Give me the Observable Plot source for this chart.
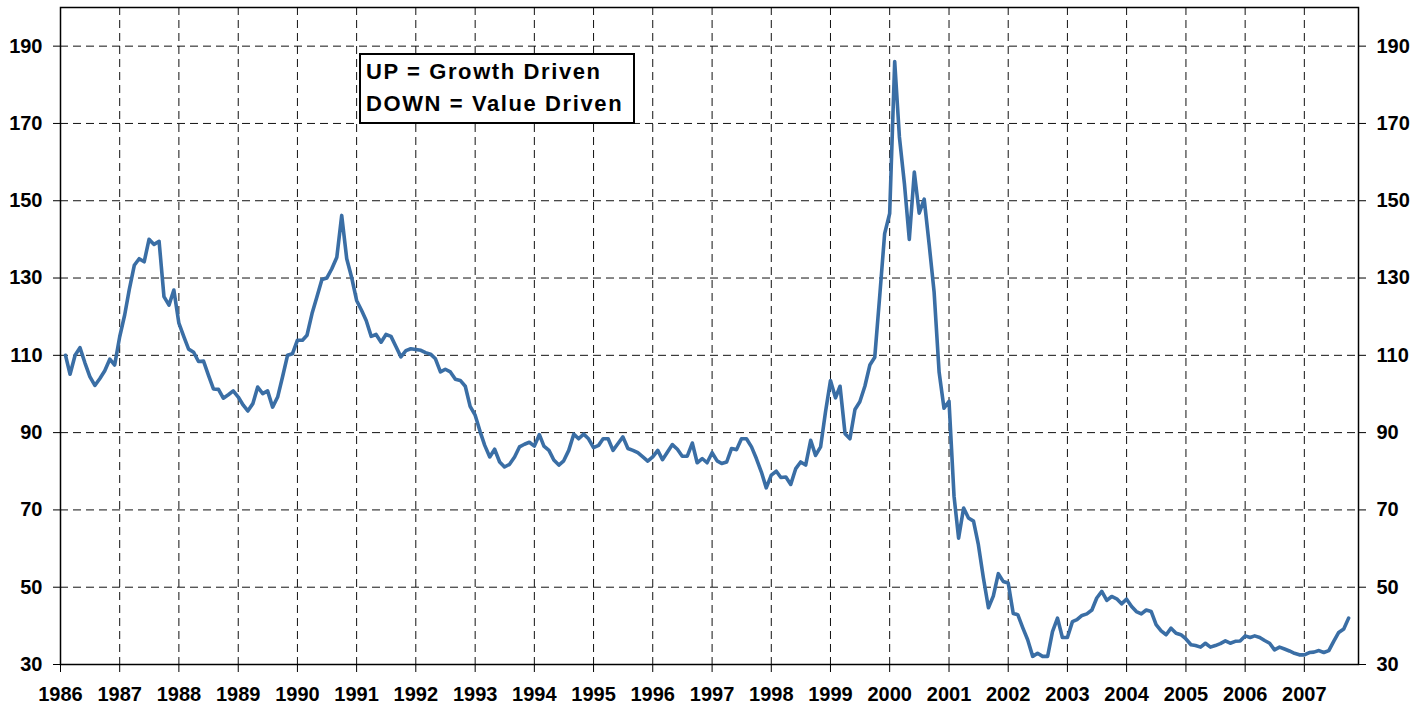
<!DOCTYPE html>
<html>
<head>
<meta charset="utf-8">
<script src="https://cdn.jsdelivr.net/npm/d3@7"></script>
<script src="https://cdn.jsdelivr.net/npm/@observablehq/plot@0.6"></script>
<style>
  html, body { margin: 0; padding: 0; background: #fff; }
  #wrap { position: relative; width: 1426px; height: 715px; overflow: hidden; }
  #legend {
    position: absolute; left: 359px; top: 53px; width: 267px; height: 66px;
    border: 2px solid #000; background: #fff; padding: 1px 0 0 5px;
    font-family: "Liberation Sans", Arial, sans-serif; font-weight: bold;
    font-size: 22px; letter-spacing: 1.6px; line-height: 32px; color: #000;
    white-space: nowrap;
  }
</style>
</head>
<body>
<div id="wrap"></div>
<script>
// ---- data (monthly, first observation Feb 1986) ----
const startYear = 1986;
const startMonthIndex = 1; // February (0-based)
const values = [
  110, 105.1, 110, 112, 108, 104.5, 102.2, 104, 106, 109, 107.5,
  114.8, 120.5, 127, 133.3, 135, 134.2, 140, 138.7, 139.5, 125.2, 123, 126.9,
  118.3, 114.8, 111.6, 110.8, 108.4, 108.5, 104.9, 101.3, 101.2, 98.9, 99.8, 100.8,
  99.2, 97.1, 95.6, 97.5, 101.8, 100.1, 100.8, 96.6, 99.2, 104.4, 110, 110.4,
  113.9, 113.9, 115.2, 120.8, 125.1, 129.6, 130, 132.4, 135.4, 146.2, 135, 130.2,
  124.2, 121.6, 119, 114.9, 115.4, 113.4, 115.4, 114.9, 112.2, 109.6, 111.2, 111.7,
  111.5, 111.3, 110.7, 110.3, 109.1, 105.7, 106.4, 105.7, 103.8, 103.5, 102, 96.8,
  94.5, 90.2, 86.7, 83.7, 85.7, 82.4, 81.1, 81.8, 83.7, 86.3, 87, 87.5,
  86.5, 89.5, 86.5, 85.4, 82.9, 81.6, 82.7, 85.4, 89.6, 88.4, 89.6, 88.4,
  86.1, 86.7, 88.4, 88.4, 85.4, 87.2, 88.9, 85.9, 85.4, 84.8, 83.7, 82.6,
  83.7, 85.4, 83, 85, 86.9, 85.7, 83.9, 83.9, 87.3, 82.2, 83.3, 82.2,
  84.8, 82.7, 82, 82.4, 85.9, 85.6, 88.4, 88.4, 86.3, 83.3, 79.8, 75.7,
  79, 80, 78.4, 78.5, 76.6, 80.7, 82.4, 81.6, 88, 84.1, 86.3, 95.3,
  103.5, 99, 102, 89.7, 88.4, 96, 98, 102, 107.5, 109.5, 125.5, 141.5,
  146.7, 186, 166.5, 154.4, 140, 157.4, 146.8, 150.4, 138.5, 126.4, 105.6, 96.3,
  98.1, 73.5, 62.7, 70.5, 67.9, 67.1, 61, 52.4, 44.7, 47.7, 53.5, 51.5,
  51.1, 43.2, 42.9, 39.5, 36.4, 32.1, 32.9, 32.1, 32.1, 38.5, 42, 37,
  37, 41.1, 41.6, 42.7, 43.1, 44.1, 47.2, 48.9, 46.6, 47.6, 47, 45.7,
  46.9, 45, 43.7, 43.1, 44.1, 43.7, 40.3, 38.7, 37.7, 39.4, 38.1, 37.7,
  36.6, 35.1, 34.9, 34.5, 35.5, 34.5, 34.9, 35.4, 36.1, 35.5, 36, 36.1,
  37.4, 37, 37.4, 37, 36.2, 35.5, 33.8, 34.5, 34, 33.5, 32.9, 32.5,
  32.5, 33.1, 33.2, 33.6, 33.1, 33.6, 36, 38.3, 39.2, 42
];
const yTicks = [30, 50, 70, 90, 110, 130, 150, 170, 190];
const yearLabels = d3.range(1986, 2008);
const legendLines = ["UP = Growth Driven", "DOWN = Value Driven"];

const start = new Date(Date.UTC(startYear, startMonthIndex, 1));
const data = values.map((v, i) => ({ date: d3.utcMonth.offset(start, i), value: v }));
const yearDates = yearLabels.map(y => new Date(Date.UTC(y, 0, 1)));

const font = { fontFamily: "'Liberation Sans', Arial, sans-serif", fontSize: 20, fontWeight: "bold" };

const chart = Plot.plot({
  width: 1426,
  height: 715,
  marginLeft: 60,
  marginRight: 68,
  marginTop: 7,
  marginBottom: 51,
  x: { type: "utc", domain: [new Date(Date.UTC(1986, 0, 1)), new Date(Date.UTC(2007, 11, 1))] },
  y: { domain: [30, 200] },
  style: { background: "#fff", color: "#000", fontFamily: "'Liberation Sans', Arial, sans-serif", fontSize: "20px", fontWeight: "bold", overflow: "visible" },
  marks: [
    Plot.gridY(yTicks, { stroke: "#111", strokeOpacity: 1, strokeWidth: 1, strokeDasharray: "8,5" }),
    Plot.gridX(yearDates, { stroke: "#111", strokeOpacity: 1, strokeWidth: 1, strokeDasharray: "8,5" }),
    Plot.frame({ stroke: "#000", strokeWidth: 1.5 }),
    Plot.axisY(yTicks, { anchor: "left", tickSize: 7, tickPadding: 11, label: null, ...font }),
    Plot.axisY(yTicks, { anchor: "right", tickSize: 7, tickPadding: 11, label: null, ...font }),
    Plot.axisX(yearDates, { anchor: "bottom", tickSize: 8, tickPadding: 14, tickFormat: d3.utcFormat("%Y"), label: null, ...font }),
    Plot.line(data, { x: "date", y: "value", stroke: "#3a6ea5", strokeWidth: 3.6, strokeLinejoin: "round", strokeLinecap: "round" })
  ]
});

const wrap = document.getElementById("wrap");
wrap.appendChild(chart);
const legend = document.createElement("div");
legend.id = "legend";
legend.innerHTML = legendLines.map(t => `<div>${t}</div>`).join("");
wrap.appendChild(legend);
</script>
</body>
</html>
